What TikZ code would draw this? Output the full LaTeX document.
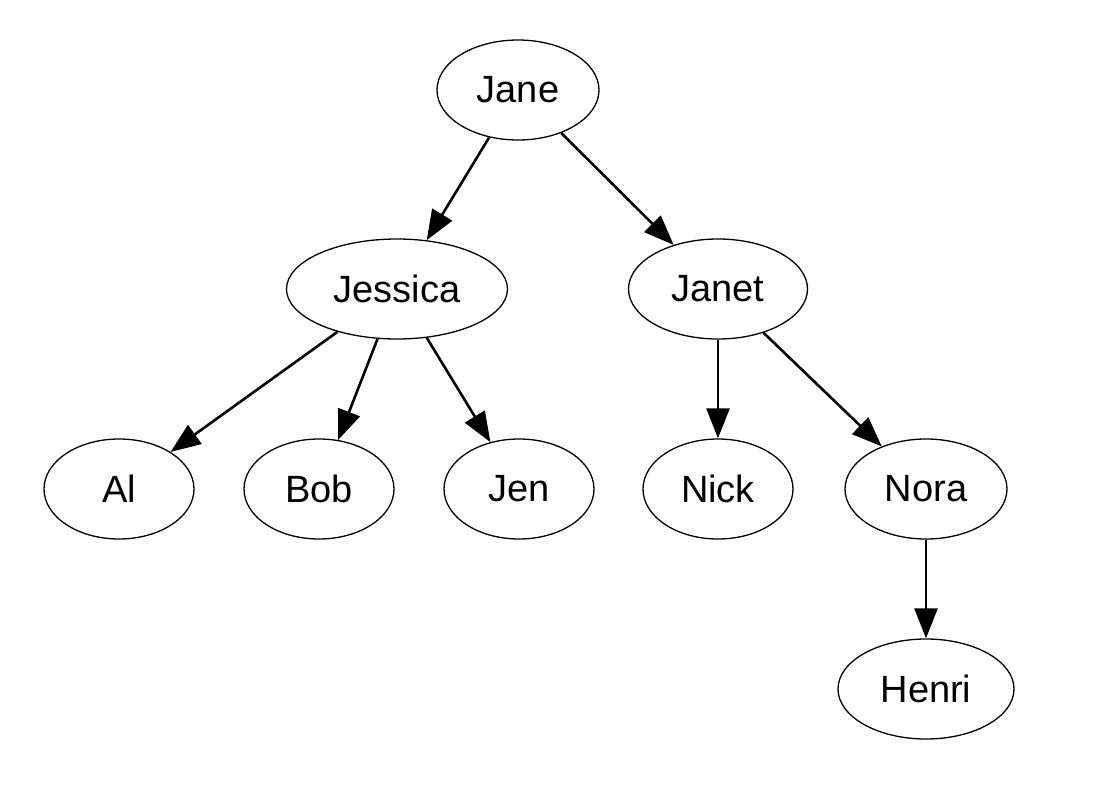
\documentclass[tikz,border=0pt]{standalone}
\usepackage{fontspec}
\setmainfont{Liberation Sans}
\usetikzlibrary{shapes.geometric,arrows.meta}
\begin{document}
\begin{tikzpicture}[x=1pt,y=-1pt,
  person/.style={ellipse,draw=black,line width=1.3pt,inner sep=0pt,minimum height=100pt,font=\fontsize{38}{42}\selectfont},
  edge/.style={line width=2.6pt,-{Triangle[length=30pt,width=23pt]}}]
\useasboundingbox (0,0) rectangle (1098,790);
\node[person,minimum width=162pt] (jane) at (518,90) {Jane};
\node[person,minimum width=221pt] (jessica) at (397,289) {Jessica};
\node[person,minimum width=179pt] (janet) at (718,289) {Janet};
\node[person,minimum width=150pt] (al) at (119,489) {Al};
\node[person,minimum width=150pt] (bob) at (319,489) {Bob};
\node[person,minimum width=150pt] (jen) at (519,489) {Jen};
\node[person,minimum width=150pt] (nick) at (718,489) {Nick};
\node[person,minimum width=162pt] (nora) at (926,489) {Nora};
\node[person,minimum width=176pt] (henri) at (926,689) {Henri};
\draw[edge] (jane) -- (jessica);
\draw[edge] (jane) -- (janet);
\draw[edge] (jessica) -- (al);
\draw[edge] (jessica) -- (bob);
\draw[edge] (jessica) -- (jen);
\draw[edge] (janet) -- (nick);
\draw[edge] (janet) -- (nora);
\draw[edge] (nora) -- (henri);
\end{tikzpicture}
\end{document}
